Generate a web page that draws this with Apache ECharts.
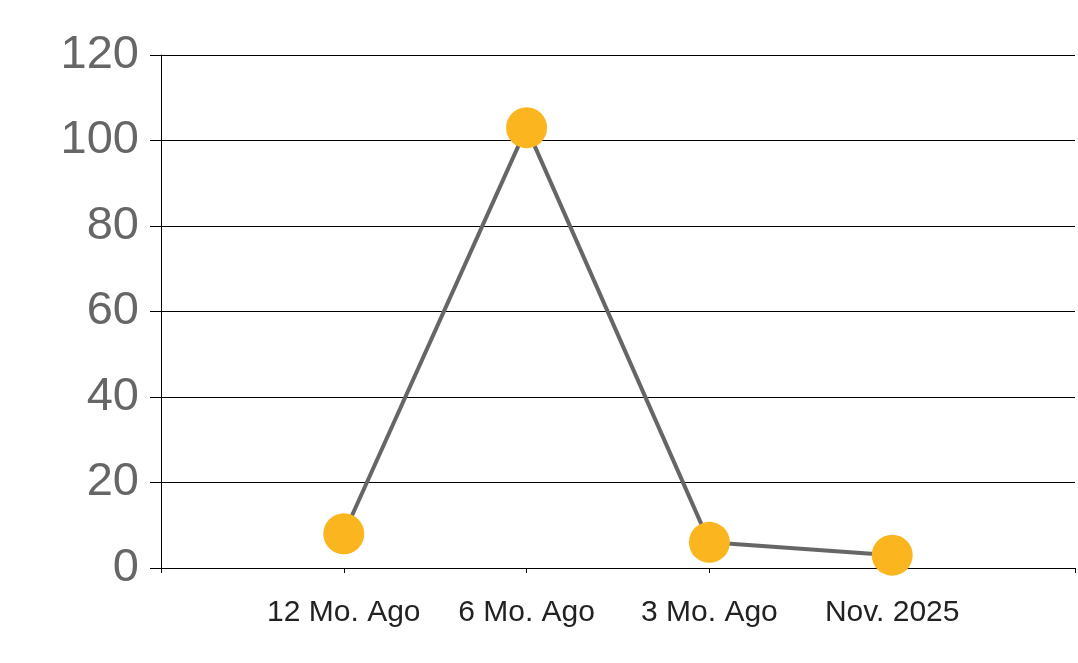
<!DOCTYPE html>
<html><head><meta charset="utf-8">
<script src="https://cdn.jsdelivr.net/npm/echarts@6/dist/echarts.min.js"></script>
<style>html,body{margin:0;padding:0;background:#fff}#c{width:1078px;height:663px}</style>
</head><body><div id="c"></div>
<script>
const categories = ['', '12 Mo. Ago', '6 Mo. Ago', '3 Mo. Ago', 'Nov. 2025', ''];
const values = [null, 8, 103, 6, 3, null];
const yTicks = { min: 0, max: 120, interval: 20 };

const chart = echarts.init(document.getElementById('c'), null, { renderer: 'canvas' });
chart.setOption({
  animation: false,
  backgroundColor: '#ffffff',
  grid: { left: 161, right: 3, top: 55, bottom: 95, containLabel: false },
  xAxis: {
    type: 'category', data: categories, boundaryGap: false,
    axisLine: { show: true, lineStyle: { color: '#000', width: 1 } },
    axisTick: { show: true, length: 5, lineStyle: { color: '#000' }, alignWithLabel: true },
    axisLabel: { color: '#222', fontSize: 30, fontFamily: 'Liberation Sans, Arial, sans-serif', margin: 30, interval: 0 },
    splitLine: { show: false }
  },
  yAxis: {
    type: 'value', min: yTicks.min, max: yTicks.max, interval: yTicks.interval,
    axisLine: { show: true, lineStyle: { color: '#000', width: 1 } },
    axisTick: { show: true, length: 11, lineStyle: { color: '#000' } },
    axisLabel: { color: '#666', fontSize: 47, fontFamily: 'Liberation Sans, Arial, sans-serif', margin: 22, padding: [0, 0, 6, 0] },
    splitLine: { show: true, lineStyle: { color: '#000', width: 1 } }
  },
  series: [{
    type: 'line', data: values, connectNulls: false,
    symbol: 'circle', symbolSize: 41, showSymbol: true,
    lineStyle: { color: '#666666', width: 4 },
    itemStyle: { color: '#FBB51E', borderWidth: 0 },
    z: 3
  }]
});
</script></body></html>
